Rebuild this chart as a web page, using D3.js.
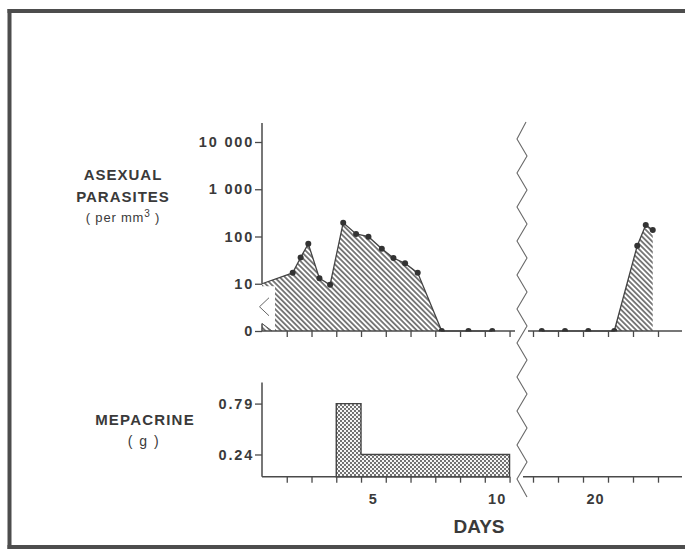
<!DOCTYPE html>
<html>
<head>
<meta charset="utf-8">
<script src="https://cdn.jsdelivr.net/npm/d3@7/dist/d3.min.js"></script>
<style>
  html, body { margin: 0; padding: 0; background: #ffffff; overflow: hidden; }
  svg { display: block; }
  text { font-family: "Liberation Sans", Arial, sans-serif; fill: #3a3a3a; }
</style>
</head>
<body>
<script>
// Asexual parasite counts (per mm3) through the first attack; the opening count
// at day 0 is carried in from before the record and has no marker.
const asexualDays   = [0, 1.24, 1.56, 1.87, 2.32, 2.75, 3.28, 3.80, 4.30, 4.84, 5.31, 5.78, 6.29, 7.26, 8.34, 9.30];
const asexualCounts = [10, 17, 36, 70, 13, 9.5, 196, 113, 99, 55, 35, 27, 17, 0, 0, 0];

// Counts after the break in the time axis (relapse).
const relapseDays   = [17.35, 18.28, 19.21, 20.25, 21.17, 21.51, 21.79];
const relapseCounts = [0, 0, 0, 0, 64, 175, 137];

// Daily mepacrine dose (g), by day of treatment.
const mepacrineDays = [4, 5, 6, 7, 8, 9, 10];
const mepacrineDose = [0.79, 0.24, 0.24, 0.24, 0.24, 0.24, 0.24];

// Axis ticks and their labels.
const countTicks      = [1, 10, 100, 1000, 10000];
const countTickLabels = ["0", "10", "100", "1 000", "10 000"];
const doseTicks       = [0.24, 0.79];
const doseTickLabels  = ["0.24", "0.79"];
const dayTicksLeft    = [1, 2, 3, 4, 5, 6, 7, 8, 9, 10];
const dayTicksRight   = [17, 18, 19, 20, 21, 22];
const dayLabelPos     = [4.5, 9.5, 19.5];
const dayLabels       = ["5", "10", "20"];

const W = 685, H = 549;
const ink = "#3a3a3a", axisInk = "#4a4a4a";

const svg = d3.select("body").append("svg").attr("width", W).attr("height", H);
svg.append("rect").attr("width", W).attr("height", H).attr("fill", "#ffffff");

// Heavy frame, drawn as filled bands: top, left and bottom (open to the right)
const frame = svg.append("g").attr("fill", "#4d4d4d");
frame.append("rect").attr("x", 7.5).attr("y", 9).attr("width", W + 20).attr("height", 4);
frame.append("rect").attr("x", 7.5).attr("y", 9).attr("width", 4).attr("height", 540);
frame.append("rect").attr("x", 7.5).attr("y", 545).attr("width", W + 20).attr("height", 4);

const defs = svg.append("defs");
const hatch = defs.append("pattern")
  .attr("id", "hatch").attr("patternUnits", "userSpaceOnUse")
  .attr("width", 10).attr("height", 3.7)
  .attr("patternTransform", "rotate(45)");
hatch.append("line").attr("x1", -1).attr("x2", 11).attr("y1", 1.85).attr("y2", 1.85)
  .attr("stroke", "#333").attr("stroke-width", 1.25);

const stipple = defs.append("pattern")
  .attr("id", "stipple").attr("patternUnits", "userSpaceOnUse")
  .attr("width", 4).attr("height", 4);
stipple.append("rect").attr("width", 4).attr("height", 4).attr("fill", "#f6f6f6");
stipple.append("circle").attr("cx", 1).attr("cy", 1).attr("r", 0.9).attr("fill", "#333");
stipple.append("circle").attr("cx", 3).attr("cy", 3).attr("r", 0.9).attr("fill", "#333");

// ---- Scales: the day axis is split into two segments around a break ----
const xLeft  = d3.scaleLinear().domain([0, 10.22]).range([262, 515]);
const xRight = d3.scaleLinear().domain([16.8, 23]).range([528, 683]);
const yCount = d3.scaleLog().domain([1, 10000]).range([331, 142]);
const cy = v => v <= 0 ? yCount(1) : yCount(v);      // zero counts sit on the base line
const yDose  = d3.scaleLinear().domain([0, 1.02]).range([476.7, 382.3]);

const base = yCount(1);
const leftPts  = asexualDays.map((d, i) => ({ t: d, v: asexualCounts[i] }));
const rightPts = relapseDays.map((d, i) => ({ t: d, v: relapseCounts[i] }));

// ---- Parasite panel: hatched areas ----
const areaL = d3.area().x(d => xLeft(d.t)).y0(base).y1(d => cy(d.v));
const areaR = d3.area().x(d => xRight(d.t)).y0(base).y1(d => cy(d.v));
svg.append("path").attr("d", areaL(leftPts)).attr("fill", "url(#hatch)");
svg.append("path").attr("d", areaR(rightPts)).attr("fill", "url(#hatch)");

// Gap in the hatching where the count axis is broken between 0 and 10
const x0 = xLeft(0), y10 = yCount(10);
svg.append("path")
  .attr("d", `M${x0 - 2},${y10 + 2.5}L${x0 + 13},${y10 + 2.5}L${x0 + 13},${base}L${x0 + 10},${base}L${x0 - 2},${base - 8}Z`)
  .attr("fill", "#ffffff");
svg.append("path")
  .attr("d", `M${x0},${base - 7.5}L${x0 + 10},${base}`)
  .attr("stroke", axisInk).attr("stroke-width", 1).attr("fill", "none");
svg.append("path")
  .attr("d", `M${x0 + 7},${y10 + 14}L${x0 - 2.5},${y10 + 23}L${x0 + 7},${y10 + 32}`)
  .attr("stroke", "#666").attr("stroke-width", 1).attr("fill", "none");

// Outlines along the tops of the areas
const lineL = d3.line().x(d => xLeft(d.t)).y(d => cy(d.v));
const lineR = d3.line().x(d => xRight(d.t)).y(d => cy(d.v));
svg.append("path").attr("d", lineL(leftPts)).attr("fill", "none").attr("stroke", "#444").attr("stroke-width", 1.3);
svg.append("path").attr("d", lineR(rightPts)).attr("fill", "none").attr("stroke", "#444").attr("stroke-width", 1.3);

// ---- Axes ----
function styleAxis(g) {
  g.select(".domain").remove();
  g.selectAll(".tick line").attr("stroke", axisInk).attr("stroke-width", 1.3);
  g.selectAll(".tick text").attr("fill", ink).style("font-weight", "bold")
    .style("font-size", "14.5px").style("letter-spacing", "1.8px")
    .style("font-family", '"Liberation Sans", Arial, sans-serif');
}

// Count axis (log), broken between 0 and 10
svg.append("g").attr("transform", `translate(${x0},0)`)
  .call(d3.axisLeft(yCount).tickValues(countTicks)
    .tickFormat((d, i) => countTickLabels[i]).tickSize(7).tickPadding(1))
  .call(styleAxis);
svg.append("line").attr("x1", x0).attr("x2", x0).attr("y1", 123).attr("y2", y10)
  .attr("stroke", axisInk).attr("stroke-width", 1.5);
svg.append("line").attr("x1", x0).attr("x2", x0).attr("y1", base - 7.5).attr("y2", base)
  .attr("stroke", axisInk).attr("stroke-width", 1.5);

// Day axes of the parasite panel
svg.append("g").attr("transform", `translate(0,${base})`)
  .call(d3.axisBottom(xLeft).tickValues(dayTicksLeft).tickFormat("").tickSize(6))
  .call(styleAxis);
svg.append("g").attr("transform", `translate(0,${base})`)
  .call(d3.axisBottom(xRight).tickValues(dayTicksRight).tickFormat("").tickSize(6))
  .call(styleAxis);
svg.append("line").attr("x1", xLeft(0)).attr("x2", xLeft(10.22)).attr("y1", base).attr("y2", base)
  .attr("stroke", axisInk).attr("stroke-width", 1.5);
svg.append("line").attr("x1", xRight(16.8)).attr("x2", 682).attr("y1", base).attr("y2", base)
  .attr("stroke", axisInk).attr("stroke-width", 1.5);

// Markers (zero counts show only above the base line)
defs.append("clipPath").attr("id", "aboveBase")
  .append("rect").attr("x", 0).attr("y", 0).attr("width", W).attr("height", base + 0.6);
const dots = svg.append("g").attr("clip-path", "url(#aboveBase)").attr("fill", "#333");
dots.selectAll("circle.l").data(leftPts.slice(1)).join("circle")
  .attr("cx", d => xLeft(d.t)).attr("cy", d => cy(d.v)).attr("r", 3);
dots.selectAll("circle.r").data(rightPts).join("circle")
  .attr("cx", d => xRight(d.t)).attr("cy", d => cy(d.v)).attr("r", 3);

// ---- Mepacrine panel ----
const dosePts = mepacrineDays.map((d, i) => ({ t: d - 1, v: mepacrineDose[i] }));
dosePts.push({ t: mepacrineDays[mepacrineDays.length - 1], v: mepacrineDose[mepacrineDose.length - 1] });
const doseArea = d3.area().curve(d3.curveStepAfter)
  .x(d => xLeft(d.t)).y0(yDose(0)).y1(d => yDose(d.v));
svg.append("path").attr("d", doseArea(dosePts))
  .attr("fill", "url(#stipple)").attr("stroke", "#444").attr("stroke-width", 1.4);

svg.append("g").attr("transform", `translate(${x0},0)`)
  .call(d3.axisLeft(yDose).tickValues(doseTicks)
    .tickFormat((d, i) => doseTickLabels[i]).tickSize(7).tickPadding(1))
  .call(styleAxis);
svg.append("line").attr("x1", x0).attr("x2", x0).attr("y1", 382.5).attr("y2", yDose(0))
  .attr("stroke", axisInk).attr("stroke-width", 1.5);

const yb = yDose(0);
svg.append("g").attr("transform", `translate(0,${yb})`)
  .call(d3.axisBottom(xLeft).tickValues(dayTicksLeft).tickFormat("").tickSize(6))
  .call(styleAxis);
svg.append("g").attr("transform", `translate(0,${yb})`)
  .call(d3.axisBottom(xRight).tickValues(dayTicksRight).tickFormat("").tickSize(6))
  .call(styleAxis);
svg.append("line").attr("x1", xLeft(0)).attr("x2", xLeft(10.0)).attr("y1", yb).attr("y2", yb)
  .attr("stroke", axisInk).attr("stroke-width", 1.5);
svg.append("line").attr("x1", 523).attr("x2", 682).attr("y1", yb).attr("y2", yb)
  .attr("stroke", axisInk).attr("stroke-width", 1.5);

// Day labels, centred on the day intervals
dayLabelPos.forEach((t, i) => {
  const x = t < 12 ? xLeft(t) : xRight(t);
  svg.append("text").attr("x", x).attr("y", 504).attr("text-anchor", "middle")
    .style("font-weight", "bold").style("font-size", "14.5px").style("letter-spacing", "1px")
    .text(dayLabels[i]);
});
svg.append("text").attr("x", 479).attr("y", 533).attr("text-anchor", "middle")
  .style("font-weight", "bold").style("font-size", "19px").text("DAYS");

// Break in the time axis: zig-zag through both panels
const zz = [[526, 122]];
for (let y = 139, k = 0; y <= 480; y += 17, k++) zz.push([k % 2 === 0 ? 517 : 527, y]);
zz.push([527, 497]);
svg.append("path").attr("d", d3.line()(zz))
  .attr("fill", "none").attr("stroke", "#6a6a6a").attr("stroke-width", 1.1);

// ---- Panel titles ----
const t1 = svg.append("g").attr("text-anchor", "middle");
t1.append("text").attr("x", 123).attr("y", 180).style("font-weight", "bold")
  .style("font-size", "15px").style("letter-spacing", "1px").text("ASEXUAL");
t1.append("text").attr("x", 123).attr("y", 201.5).style("font-weight", "bold")
  .style("font-size", "15px").style("letter-spacing", "1px").text("PARASITES");
const sub = t1.append("text").attr("x", 123).attr("y", 222)
  .style("font-size", "13px").style("letter-spacing", "0.8px");
sub.append("tspan").text("( per mm");
sub.append("tspan").attr("dy", -5).style("font-size", "10px").text("3");
sub.append("tspan").attr("dy", 5).text(" )");

const t2 = svg.append("g").attr("text-anchor", "middle");
t2.append("text").attr("x", 145).attr("y", 425).style("font-weight", "bold")
  .style("font-size", "15px").style("letter-spacing", "1.2px").text("MEPACRINE");
t2.append("text").attr("x", 144).attr("y", 446).style("font-size", "14px")
  .style("letter-spacing", "1.5px").text("( g )");
</script>
</body>
</html>
